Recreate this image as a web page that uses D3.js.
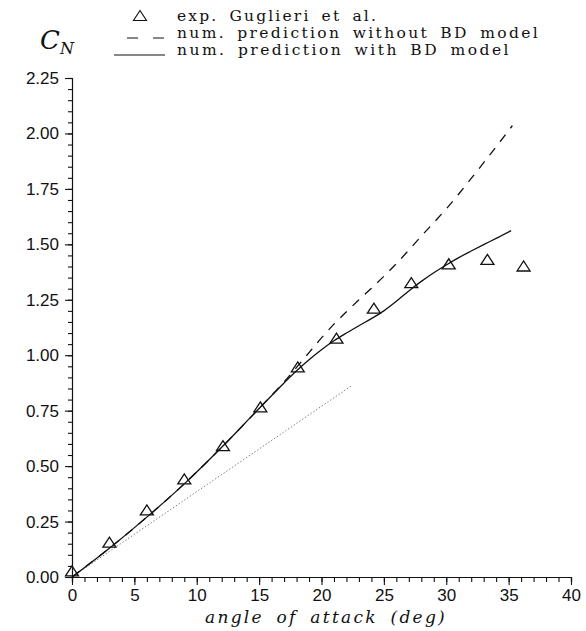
<!DOCTYPE html>
<html>
<head>
<meta charset="utf-8">
<script src="https://cdn.jsdelivr.net/npm/d3@7"></script>
<style>
  html, body { margin: 0; padding: 0; background: #fff; }
  svg { display: block; }
</style>
</head>
<body>
<svg id="chart" width="586" height="631"></svg>
<script>
// ---- data ----
const alphaExp = [0, 3, 6, 9, 12.1, 15.1, 18.1, 21.2, 24.2, 27.2, 30.2, 33.3, 36.2];
const cnExp    = [0.025, 0.155, 0.30, 0.44, 0.59, 0.765, 0.945, 1.075, 1.21, 1.325, 1.41, 1.43, 1.40];

const alphaNoBD = [0, 3, 6, 9, 12, 15, 17, 18, 19, 20, 21, 22, 23, 24, 25, 26, 27, 28, 29, 30, 31, 32, 33, 34, 35.3];
const cnNoBD    = [0, 0.13, 0.27, 0.42, 0.585, 0.76, 0.88, 0.945, 1.012, 1.078, 1.14, 1.196, 1.25, 1.302, 1.356, 1.413, 1.474, 1.537, 1.598, 1.66, 1.727, 1.797, 1.868, 1.94, 2.035];

const alphaBD = [0, 3, 6, 9, 12, 15, 17, 18, 19, 20, 21, 22, 23, 24, 25, 26, 27, 28, 29, 30, 31, 32, 33, 34, 35.2];
const cnBD    = [0, 0.13, 0.27, 0.42, 0.585, 0.76, 0.875, 0.93, 0.98, 1.025, 1.065, 1.10, 1.133, 1.165, 1.20, 1.243, 1.29, 1.333, 1.372, 1.407, 1.44, 1.47, 1.499, 1.527, 1.562];

const alphaLin = [0, 22.5];
const cnLin    = [0, 0.866];

const xTicks = [0, 5, 10, 15, 20, 25, 30, 35, 40];
const yTicks = [0, 0.25, 0.5, 0.75, 1.0, 1.25, 1.5, 1.75, 2.0, 2.25];

const legendLabels = ["exp. Guglieri et al.", "num. prediction without BD model", "num. prediction with BD model"];

// ---- drawing ----
const svg = d3.select("#chart");
const x = d3.scaleLinear().domain([0, 40]).range([72, 571]);
const y = d3.scaleLinear().domain([0, 2.25]).range([577, 78]);

const zip = (a, b) => a.map((v, i) => [v, b[i]]);
const line = d3.line().x(d => x(d[0])).y(d => y(d[1])).curve(d3.curveMonotoneX);

// axes
const xAxisMinor = d3.axisBottom(x).tickValues(d3.range(0, 41, 1)).tickSize(5).tickFormat("");
const xAxisMajor = d3.axisBottom(x).tickValues(xTicks).tickSize(8).tickFormat(d3.format("d"));
const yAxisMinor = d3.axisLeft(y).tickValues(d3.range(0, 2.2501, 0.05)).tickSize(4).tickFormat("");
const yAxisMajor = d3.axisLeft(y).tickValues(yTicks).tickSize(7).tickFormat(d3.format(".2f"));

function styleAxis(g) {
  g.select(".domain").attr("stroke", "#111").attr("stroke-width", 1.2);
  g.selectAll(".tick line").attr("stroke", "#111").attr("stroke-width", 1.1);
  g.selectAll("text").attr("fill", "#111")
    .style("font-family", "'Liberation Sans', Arial, sans-serif").style("font-size", "17px");
}

svg.append("g").attr("transform", `translate(0,${y(0)})`).call(xAxisMinor).call(styleAxis);
const gx = svg.append("g").attr("transform", `translate(0,${y(0)})`).call(xAxisMajor).call(styleAxis);
gx.selectAll("text").attr("dy", "0.95em").attr("y", 8);
gx.select(".domain").remove();

svg.append("g").attr("transform", `translate(${x(0)},0)`).call(yAxisMinor).call(styleAxis);
const gy = svg.append("g").attr("transform", `translate(${x(0)},0)`).call(yAxisMajor).call(styleAxis);
gy.selectAll("text").attr("x", -13);
gy.select(".domain").remove();

// lines
svg.append("path").datum(zip(alphaLin, cnLin)).attr("d", line)
  .attr("fill", "none").attr("stroke", "#777").attr("stroke-width", 1).attr("stroke-dasharray", "1.4,2");
svg.append("path").datum(zip(alphaNoBD, cnNoBD)).attr("d", line)
  .attr("fill", "none").attr("stroke", "#111").attr("stroke-width", 1.3).attr("stroke-dasharray", "9,8");
svg.append("path").datum(zip(alphaBD, cnBD)).attr("d", line)
  .attr("fill", "none").attr("stroke", "#111").attr("stroke-width", 1.3);

// triangles
const triPath = "M-6.5,4.5L6.5,4.5L0,-5.5Z";
svg.append("g").selectAll("path").data(zip(alphaExp, cnExp)).join("path")
  .attr("d", triPath)
  .attr("transform", d => `translate(${x(d[0])},${y(d[1])})`)
  .attr("fill", "none").attr("stroke", "#111").attr("stroke-width", 1.3);

// fit a text to a target width: moderate word gaps, remainder spread as letter spacing
function fitText(sel, target, wordGap) {
  sel.style("word-spacing", wordGap + "px");
  const nat = sel.node().getComputedTextLength();
  const n = sel.text().length;
  if (nat < target && n > 1) sel.style("letter-spacing", ((target - nat) / n) + "px");
}

// axis titles
const xt = svg.append("text").attr("x", 205).attr("y", 623)
  .style("font-family", "'DejaVu Serif', serif").style("font-style", "italic").style("font-size", "17px")
  .attr("fill", "#111").text("angle of attack (deg)");
fitText(xt, 242, 5);

const cn = svg.append("text").attr("x", 40).attr("y", 49)
  .style("font-family", "'DejaVu Serif', serif").style("font-style", "italic").attr("fill", "#111");
cn.append("tspan").style("font-size", "26px").text("C");
cn.append("tspan").attr("dy", 5).style("font-size", "16px").text("N");

// legend
const legY = [21, 38, 55];
const legLen = [201, 363, 334];
svg.append("path").attr("d", triPath).attr("transform", `translate(140,${legY[0] - 5})`)
  .attr("fill", "none").attr("stroke", "#111").attr("stroke-width", 1.1);
svg.append("line").attr("x1", 127).attr("x2", 165).attr("y1", legY[1]).attr("y2", legY[1])
  .attr("stroke", "#111").attr("stroke-width", 1.2).attr("stroke-dasharray", "11,15");
svg.append("line").attr("x1", 114).attr("x2", 165).attr("y1", legY[2]).attr("y2", legY[2])
  .attr("stroke", "#111").attr("stroke-width", 1.2);
legendLabels.forEach((t, i) => {
  const tx = svg.append("text").attr("x", 177).attr("y", legY[i])
    .style("font-family", "'DejaVu Serif', serif").style("font-size", "15.5px")
    .attr("fill", "#111").text(t);
  fitText(tx, legLen[i], 4);
});
</script>
</body>
</html>
